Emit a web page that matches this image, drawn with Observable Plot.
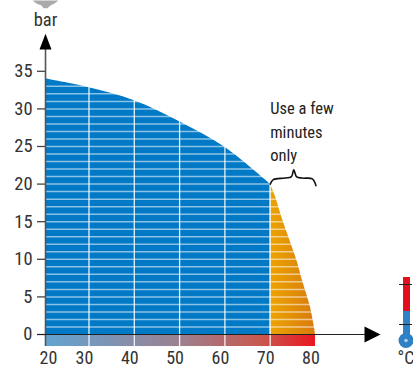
<!DOCTYPE html>
<html><head><meta charset="utf-8">
<script src="https://cdn.jsdelivr.net/npm/d3@7"></script>
<script src="https://cdn.jsdelivr.net/npm/@observablehq/plot@0.6"></script>
<style>html,body{margin:0;padding:0;background:#fff}svg{display:block}</style>
</head><body><div id="c"></div>
<script>
const font = "'Liberation Sans Narrow','Roboto Condensed','Liberation Sans',sans-serif";
const xStart = 20.4;
const blueX = [xStart,30,40,50,60,70];
const blueY = [34,32.8,31.1,28.3,24.9,20];
const orangeX = [70,70.95,72.9,75.8,77.3,78.9,79.8,80];
const orangeY = [20,18.7,15,10,6.8,3.6,0.8,0];
const hLines = d3.range(1,34);
const vLines = [30,40,50,60,70];
const yTicks = [0,5,10,15,20,25,30,35];
const xLabels = [30,40,50,60,70,80];
const braceX = [70,70.7,73.3,74.7,75.2,75.8,77,79.3,80.1];
const braceY = [20,20.6,20.8,21,21.9,21,20.8,20.7,19.8];
const note = "Use a few\nminutes\nonly";
const gaugeX = [17.53,23.27,22.38,21.5,20.84,19.96,19.51,18.4];
const gaugeY = [44.4,44.4,44,43.75,43.4,43.4,43.75,44];
const blue = blueX.map((x,i)=>({x,y:blueY[i]}));
const orange = orangeX.map((x,i)=>({x,y:orangeY[i]}));
const brace = braceX.map((x,i)=>({x,y:braceY[i]}));
const gauge = gaugeX.map((x,i)=>({x,y:gaugeY[i]}));
const poly = (xs,ys)=>xs.map((x,i)=>({x,y:ys[i]}));
function grad(id,stops){
  return ()=>{
    const d=d3.create("svg:defs");
    const g=d.append("linearGradient").attr("id",id);
    stops.forEach(([o,c])=>g.append("stop").attr("offset",o).attr("stop-color",c));
    return d.node();
  };
}
const chart = Plot.plot({
  width:413,height:367,margin:0,style:{fontFamily:font,background:"#fff",color:"#333"},
  x:{domain:[30,80],range:[88.5,315],axis:null},
  y:{domain:[0,35],range:[334,70.8],axis:null},
  marks:[
    grad("strip",[[0,"#62a4d2"],[0.5,"#9c8090"],[0.8,"#c8584f"],[1,"#ea1520"]]),
    grad("amber",[[0,"#eca400"],[1,"#d87a0e"]]),
    Plot.areaY(blue,{x:"x",y:"y",fill:"#0079c6",curve:"catmull-rom"}),
    Plot.areaY(orange,{x:"x",y:"y",fill:"url(#amber)",curve:"catmull-rom"}),
    Plot.rect([{x1:xStart,x2:80,y1:-1.6,y2:0}],{x1:"x1",x2:"x2",y1:"y1",y2:"y2",fill:"url(#strip)"}),
    Plot.ruleY(hLines,{x1:xStart,x2:80,stroke:"#fff",strokeOpacity:0.55,strokeWidth:1.5}),
    Plot.ruleX(vLines,{y1:-1.6,y2:34,stroke:"#fff",strokeOpacity:0.9,strokeWidth:1.3}),
    Plot.ruleY(yTicks,{x1:18.63,x2:xStart,stroke:"#444",strokeWidth:1.3}),
    Plot.ruleX([xStart],{y1:-1.6,y2:38,stroke:"#555",strokeWidth:1.6}),
    Plot.ruleY([0],{x1:18.63,x2:91,stroke:"#222",strokeWidth:1.2}),
    Plot.line(poly([xStart,19.07,21.72],[40,37.9,37.9]),{x:"x",y:"y",fill:"#000",stroke:null}),
    Plot.line(poly([94.35,90.82,90.82],[0,1.06,-1.06]),{x:"x",y:"y",fill:"#000",stroke:null}),
    Plot.text(yTicks,{x:xStart,y:d=>d,text:String,textAnchor:"end",dx:-13,fontSize:18.5,fill:"#333"}),
    Plot.text(["20"],{x:xStart,y:-3.15,text:d=>d,dx:3,fontSize:18,fill:"#333"}),
    Plot.text(xLabels,{x:d=>d,y:-3.15,text:String,dx:-4.5,fontSize:18,fill:"#333"}),
    Plot.text(["bar"],{x:xStart,y:41.8,text:d=>d,fontSize:18.5,fill:"#333"}),
    Plot.line(gauge,{x:"x",y:"y",fill:"#aaa",stroke:null}),
    Plot.text([note],{x:70,y:31.5,text:d=>d,textAnchor:"start",lineAnchor:"top",lineHeight:1.42,fontSize:16.5,fill:"#222"}),
    Plot.line(brace,{x:"x",y:"y",stroke:"#111",strokeWidth:1.6,curve:"catmull-rom"}),
    Plot.rect([{x1:99.43,x2:100.97,y1:3.06,y2:7.58}],{x1:"x1",x2:"x2",y1:"y1",y2:"y2",fill:"#e2101e"}),
    Plot.rect([{x1:99.43,x2:100.97,y1:-0.8,y2:3.06}],{x1:"x1",x2:"x2",y1:"y1",y2:"y2",fill:"#2f80c4"}),
    Plot.dot([{x:99.98,y:-0.8}],{x:"x",y:"y",r:7.5,fill:"#2f80c4"}),
    Plot.dot([{x:99.98,y:-0.8}],{x:"x",y:"y",r:1.8,fill:"#a8d0ee"}),
    Plot.ruleY([6.65,1.33],{x1:98.54,x2:101.41,stroke:"#222",strokeWidth:1}),
    Plot.text(["°C"],{x:98.1,y:-3.15,text:d=>d,textAnchor:"start",fontSize:18,fill:"#333"})
  ]
});
document.getElementById("c").appendChild(chart);
</script></body></html>
